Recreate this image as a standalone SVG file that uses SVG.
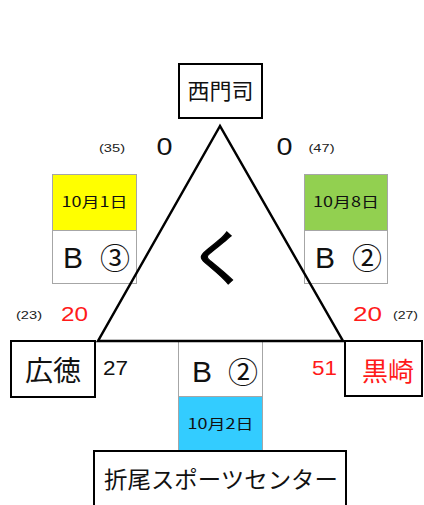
<svg xmlns="http://www.w3.org/2000/svg" width="424" height="505" viewBox="0 0 424 505">
<style>
.team{fill:#fff;stroke:#000;stroke-width:2}
.card{stroke:#a6a6a6;stroke-width:1}
.jp{font-family:"Noto Sans CJK JP","Noto Sans",sans-serif}
.num{font-family:"Liberation Sans","Noto Sans",sans-serif}
.sm{font-size:11px;fill:#222}
.sc{font-size:20px}
.red{fill:#ff1a1a}
.bl{font-family:"Liberation Sans",sans-serif;font-size:30px;fill:#111}
.ci{font-family:"Noto Sans CJK JP",sans-serif;font-size:30px;fill:#111}
.dt{font-size:14px;fill:#111}
</style>
<rect width="424" height="505" fill="#fff"/>
<g id="card-left">
<rect class="card" x="52.5" y="174.5" width="84" height="56" fill="#ffff00"/>
<rect class="card" x="52.5" y="230.5" width="84" height="53" fill="#fff"/>
<text class="jp dt" x="94.5" y="207" text-anchor="middle" textLength="66" lengthAdjust="spacingAndGlyphs">10月1日</text>
<text class="bl" x="63" y="268">B</text>
<text class="ci" x="100" y="269">③</text>
</g>
<g id="card-right">
<rect class="card" x="304.5" y="174.5" width="83" height="56" fill="#92d050"/>
<rect class="card" x="304.5" y="230.5" width="83" height="53" fill="#fff"/>
<text class="jp dt" x="346" y="207" text-anchor="middle" textLength="66" lengthAdjust="spacingAndGlyphs">10月8日</text>
<text class="bl" x="315" y="268">B</text>
<text class="ci" x="352" y="269">②</text>
</g>
<g id="card-bottom">
<rect class="card" x="178.5" y="341.5" width="84" height="55" fill="#fff"/>
<rect class="card" x="178.5" y="396.5" width="84" height="55" fill="#33ccff"/>
<text class="jp dt" x="220.5" y="429" text-anchor="middle" textLength="66" lengthAdjust="spacingAndGlyphs">10月2日</text>
<text class="bl" x="192" y="382">B</text>
<text class="ci" x="228" y="383">②</text>
</g>
<g id="connectors">
<path d="M220,126 L98,341 L343,341 Z" fill="none" stroke="#000" stroke-width="2.5" stroke-linejoin="miter"/>
</g>
<g id="symbol">
<text class="jp" x="219" y="280" text-anchor="middle" font-size="60" fill="#000" stroke="#000" stroke-width="1.2">く</text>
</g>
<g id="node-nishimoji">
<rect class="team" x="179" y="64" width="83" height="54"/>
<text class="jp" x="220.5" y="99" text-anchor="middle" font-size="22" fill="#111">西門司</text>
</g>
<g id="node-hirotoku">
<rect class="team" x="11" y="341" width="84" height="56"/>
<text class="jp" x="53" y="381" text-anchor="middle" font-size="28" fill="#111">広徳</text>
</g>
<g id="node-kurosaki">
<rect class="team" x="345" y="341" width="77" height="55"/>
<text class="jp red" x="388" y="381" text-anchor="middle" font-size="26">黒崎</text>
</g>
<g id="node-orio">
<rect class="team" x="94" y="451" width="252" height="60"/>
<text class="jp" x="221" y="488" text-anchor="middle" font-size="23" fill="#111" textLength="234" lengthAdjust="spacingAndGlyphs">折尾スポーツセンター</text>
</g>
<g id="scores">
<text class="num sm" x="112" y="152" text-anchor="middle" textLength="26" lengthAdjust="spacingAndGlyphs">(35)</text>
<text class="num" x="164.5" y="155" text-anchor="middle" font-size="23" textLength="16" lengthAdjust="spacingAndGlyphs" fill="#111">0</text>
<text class="num" x="284.5" y="155" text-anchor="middle" font-size="23" textLength="16" lengthAdjust="spacingAndGlyphs" fill="#111">0</text>
<text class="num sm" x="321.5" y="152" text-anchor="middle" textLength="26" lengthAdjust="spacingAndGlyphs">(47)</text>
<text class="num sm" x="29" y="319" text-anchor="middle" textLength="26" lengthAdjust="spacingAndGlyphs">(23)</text>
<text class="num sc red" x="74.5" y="321" text-anchor="middle" textLength="27" lengthAdjust="spacingAndGlyphs">20</text>
<text class="num sc red" x="367.5" y="321" text-anchor="middle" textLength="29" lengthAdjust="spacingAndGlyphs">20</text>
<text class="num sm" x="405.5" y="319" text-anchor="middle" textLength="25" lengthAdjust="spacingAndGlyphs">(27)</text>
<text class="num sc" x="115.5" y="375" text-anchor="middle" textLength="25" lengthAdjust="spacingAndGlyphs" fill="#111">27</text>
<text class="num sc red" x="324.5" y="375" text-anchor="middle" textLength="25" lengthAdjust="spacingAndGlyphs">51</text>
</g>
</svg>
